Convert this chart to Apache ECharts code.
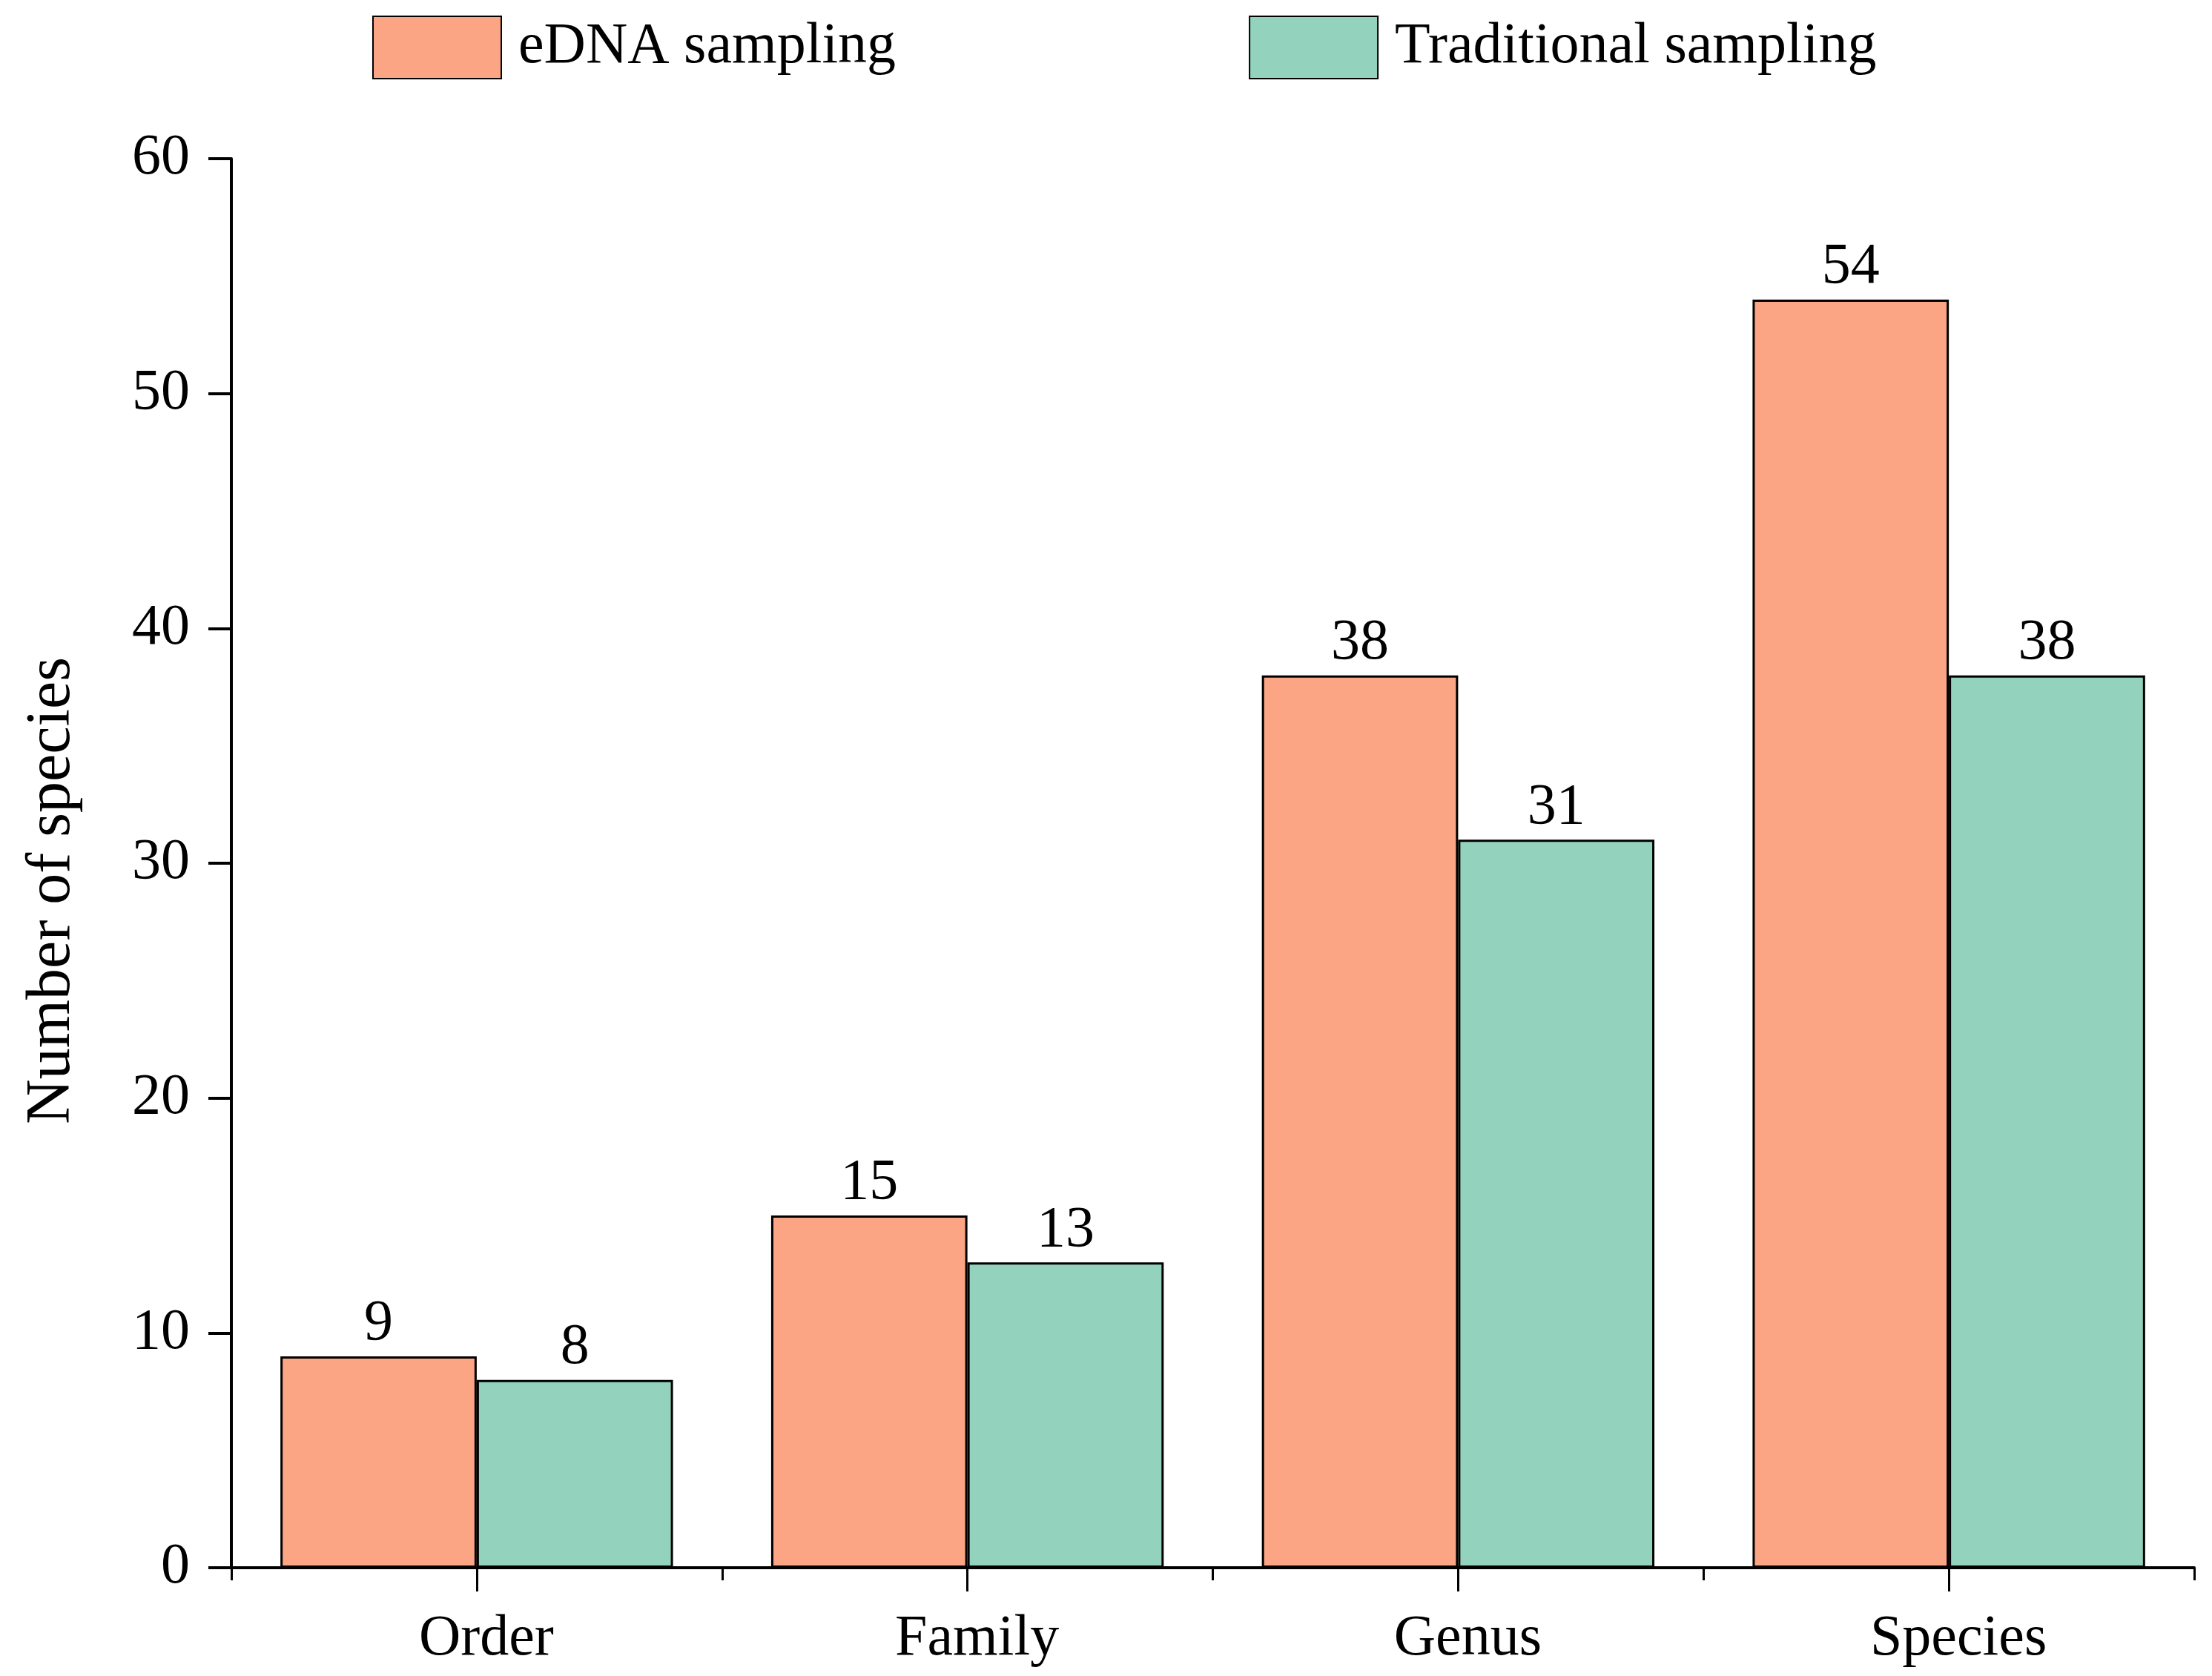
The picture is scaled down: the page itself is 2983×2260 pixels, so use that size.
<!DOCTYPE html>
<html><head><meta charset="utf-8">
<script src="https://cdn.jsdelivr.net/npm/echarts@6/dist/echarts.min.js"></script>
<style>html,body{margin:0;padding:0;background:#fff}#c{width:2983px;height:2260px}</style>
</head><body><div id="c"></div>
<script>
const categories = ['Order', 'Family', 'Genus', 'Species'];
const eDNA = [9, 15, 38, 54];
const traditional = [8, 13, 31, 38];
const seriesNames = ['eDNA sampling', 'Traditional sampling'];
const yTicks = {min: 0, max: 60, interval: 10};

const FONT = '"Liberation Serif", "Times New Roman", serif';
const chart = echarts.init(document.getElementById('c'));
const barLabel = {show: true, position: 'top', distance: 4, color: '#000', fontFamily: FONT, fontSize: 78};
chart.setOption({
  backgroundColor: '#fff',
  animation: false,
  legend: {
    left: 497, top: 16, itemWidth: 173, itemHeight: 84, itemGap: 476,
    data: seriesNames,
    textStyle: {fontFamily: FONT, fontSize: 78, color: '#000', padding: [0, 0, 0, 18]},
    icon: 'rect'
  },
  grid: {left: 312, right: 24, top: 214, bottom: 146, containLabel: false},
  xAxis: [{
    type: 'category', data: categories,
    axisLine: {lineStyle: {color: '#000', width: 4}},
    axisTick: {show: true, length: 17, lineStyle: {color: '#000', width: 3}},
    axisLabel: {fontFamily: FONT, fontSize: 78, color: '#000', margin: 58, padding: [0, 0, 0, 26]}
  }, {
    type: 'category', data: categories, position: 'bottom',
    axisLine: {show: false},
    axisTick: {show: true, alignWithLabel: true, length: 32, lineStyle: {color: '#000', width: 3}},
    axisLabel: {show: false}
  }],
  yAxis: {
    type: 'value', min: yTicks.min, max: yTicks.max, interval: yTicks.interval,
    name: 'Number of species', nameLocation: 'middle', nameGap: 199,
    nameTextStyle: {fontFamily: FONT, fontSize: 84, color: '#000', padding: [0, 74, 0, 0]},
    axisLine: {show: true, lineStyle: {color: '#000', width: 4}},
    axisTick: {show: true, length: 31, lineStyle: {color: '#000', width: 4}},
    splitLine: {show: false},
    axisLabel: {fontFamily: FONT, fontSize: 78, color: '#000', margin: 56}
  },
  series: [{
    name: seriesNames[0], type: 'bar', data: eDNA, barWidth: '40%', barGap: '0%',
    itemStyle: {color: '#FCA585', borderColor: '#000', borderWidth: 3},
    label: barLabel
  }, {
    name: seriesNames[1], type: 'bar', data: traditional, barWidth: '40%', barGap: '0%',
    itemStyle: {color: '#93D2BD', borderColor: '#000', borderWidth: 3},
    label: barLabel
  }]
});
</script></body></html>
